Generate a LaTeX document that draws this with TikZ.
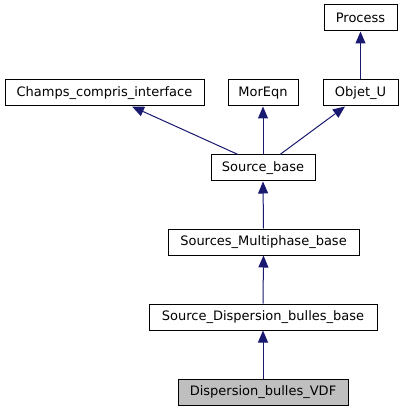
\documentclass[tikz,border=0pt]{standalone}
\usepackage{fontspec}
\setmainfont{DejaVu Sans}
\usetikzlibrary{arrows.meta}
\definecolor{edgeblue}{HTML}{191970}
\definecolor{greyfill}{HTML}{BFBFBF}
\tikzset{
  cls/.style={draw=black, line width=1pt, fill=white, minimum height=26pt, inner sep=0pt,
    font=\fontsize{13}{15}\selectfont, anchor=center},
  inh/.style={draw=edgeblue, line width=1pt, -{Triangle[length=12pt,width=10pt,fill=edgeblue]}}
}
\begin{document}
\begin{tikzpicture}[x=1pt,y=-1pt]
\useasboundingbox (0,0) rectangle (403,411);
\node[cls, minimum width=73pt] (pr) at (360.5,18) {Process};
\node[cls, minimum width=199pt] (ch) at (104.5,93) {Champs\_compris\_interface};
\node[cls, minimum width=70pt] (me) at (263,93) {MorEqn};
\node[cls, minimum width=75pt] (ob) at (360.5,93) {Objet\_U};
\node[cls, minimum width=104pt] (sb) at (263,168) {Source\_base};
\node[cls, minimum width=191pt] (sm) at (263.5,242) {Sources\_Multiphase\_base};
\node[cls, minimum width=228pt] (sd) at (263,317) {Source\_Dispersion\_bulles\_base};
\node[cls, minimum width=170pt, fill=greyfill] (dv) at (263,392) {Dispersion\_bulles\_VDF};
\draw[inh] (ob.north) -- (pr.south);
\draw[inh] ([xshift=-25pt]sb.north) -- ([xshift=27.5pt]ch.south);
\draw[inh] (sb.north) -- (me.south);
\draw[inh] ([xshift=17pt]sb.north) -- ([xshift=-15.5pt]ob.south);
\draw[inh] (sm.north) -- (sb.south);
\draw[inh] (sd.north) -- (sm.south);
\draw[inh] (dv.north) -- (sd.south);
\end{tikzpicture}
\end{document}
